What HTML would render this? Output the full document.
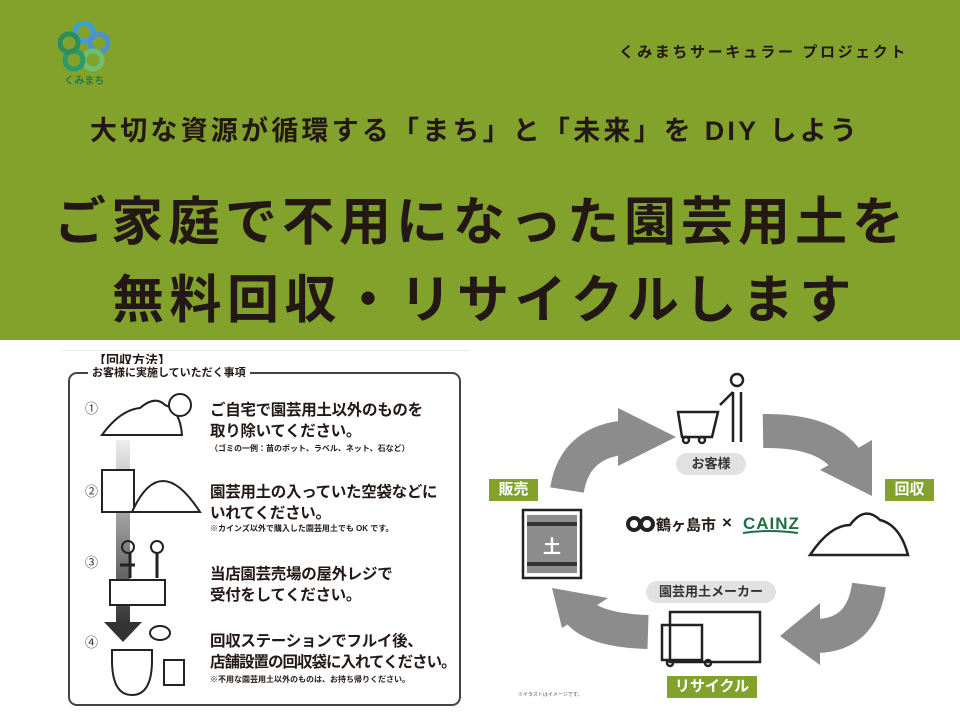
<!DOCTYPE html>
<html><head><meta charset="utf-8"><style>
*{margin:0;padding:0;box-sizing:border-box}
body{width:960px;height:720px;position:relative;background:#fff;font-family:"Liberation Sans","Noto Sans CJK JP",sans-serif;overflow:hidden;color:#231815}
.a{position:absolute;white-space:nowrap}
.ban{position:absolute;left:0;top:0;width:960px;height:340px;background:#83a22b}
.b{font-weight:bold}
.tag{position:absolute;background:#83a22b;color:#fff;font-weight:bold;font-size:15px;text-align:center;line-height:22px}
.pill{position:absolute;background:#e1e1e1;border-radius:12px;font-weight:bold;font-size:13px;text-align:center;color:#333}
.num{position:absolute;font-size:13px;color:#333}
.st{font-size:15.5px;line-height:21px;letter-spacing:-0.3px}
</style></head><body>
<div class="ban"></div>
<svg class="a" style="left:58px;top:22px" width="52" height="50" viewBox="0 0 52 50">
<circle cx="26" cy="10" r="9" fill="none" stroke="#3aa0d8" stroke-width="5"/>
<circle cx="41" cy="21" r="9" fill="none" stroke="#4d8fcf" stroke-width="5"/>
<circle cx="35" cy="38" r="9" fill="none" stroke="#6cc070" stroke-width="5"/>
<circle cx="16" cy="38" r="9" fill="none" stroke="#2e9a6a" stroke-width="5"/>
<circle cx="11" cy="21" r="9" fill="none" stroke="#2a8f5a" stroke-width="5"/>
</svg>
<div class="a b" style="left:64px;top:72px;font-size:10px;color:#2a7a50">くみまち</div>
<div class="a b" style="left:619px;top:41px;font-size:15px;letter-spacing:2.6px">くみまちサーキュラー プロジェクト</div>
<div class="a b" style="left:90px;top:109px;font-size:27px;letter-spacing:3.2px">大切な資源が循環する「まち」と「未来」を DIY しよう</div>
<div class="a b" style="left:54px;top:180px;font-size:52px;letter-spacing:5px">ご家庭で不用になった園芸用土を</div>
<div class="a b" style="left:112px;top:258px;font-size:52px;letter-spacing:5.5px">無料回収・リサイクルします</div>

<!-- left panel -->
<div class="a" style="left:62px;top:350px;width:408px;height:1px;background:#e8e8e8"></div>
<div class="a b" style="left:93px;top:350px;font-size:13px">【回収方法】</div>
<div class="a" style="left:68px;top:372px;width:393px;height:334px;border:2.5px solid #444;border-radius:9px"></div>
<div class="a b" style="left:88px;top:364px;font-size:11px;background:#fff;padding:0 4px">お客様に実施していただく事項</div>
<div class="num" style="left:85px;top:398px">①</div>
<div class="num" style="left:85px;top:481px">②</div>
<div class="num" style="left:85px;top:552px">③</div>
<div class="num" style="left:85px;top:632px">④</div>
<svg class="a" style="left:100px;top:390px" width="140" height="310">
<defs><linearGradient id="g" x1="0" y1="0" x2="0" y2="1"><stop offset="0" stop-color="#eee"/><stop offset="1" stop-color="#333"/></linearGradient></defs>
<rect x="16" y="50" width="14" height="185" fill="url(#g)"/>
<polygon points="4,232 42,232 23,252" fill="#333"/>
<path d="M2,45 Q20,20 40,18 Q55,5 65,15 Q80,20 82,45 Z" fill="#fff" stroke="#222" stroke-width="2"/>
<circle cx="80" cy="15" r="11" fill="#fff" stroke="#222" stroke-width="2"/>
<rect x="2" y="80" width="32" height="42" fill="#fff" stroke="#222" stroke-width="2"/>
<path d="M32,122 Q60,60 100,122 Z" fill="#fff" stroke="#222" stroke-width="2"/>
<rect x="10" y="190" width="55" height="25" fill="#fff" stroke="#222" stroke-width="2"/>
<circle cx="28" cy="157" r="6" fill="none" stroke="#222" stroke-width="2"/>
<circle cx="57" cy="157" r="6" fill="none" stroke="#222" stroke-width="2"/>
<path d="M30,163 v25 M57,163 v25 M20,175 h15" stroke="#222" stroke-width="3"/>
<path d="M12,260 h40 v10 q0,35 -20,35 q-20,0 -20,-35 z" fill="#fff" stroke="#222" stroke-width="2"/>
<rect x="64" y="270" width="20" height="25" fill="#fff" stroke="#222" stroke-width="2"/>
<ellipse cx="60" cy="243" rx="10" ry="7" fill="#fff" stroke="#222" stroke-width="2"/>
</svg>
<div class="a b st" style="left:210px;top:400px">ご自宅で園芸用土以外のものを<br>取り除いてください。</div>
<div class="a b" style="left:210px;top:443px;font-size:8px">（ゴミの一例：苗のポット、ラベル、ネット、石など）</div>
<div class="a b st" style="left:210px;top:482px">園芸用土の入っていた空袋などに<br>いれてください。</div>
<div class="a b" style="left:210px;top:523px;font-size:8px">※カインズ以外で購入した園芸用土でも OK です。</div>
<div class="a b st" style="left:210px;top:564px">当店園芸売場の屋外レジで<br>受付をしてください。</div>
<div class="a b st" style="left:210px;top:631px">回収ステーションでフルイ後、<br><span style="letter-spacing:-1px">店舗設置の回収袋に入れてください。</span></div>
<div class="a b" style="left:210px;top:674px;font-size:8px">※不用な園芸用土以外のものは、お持ち帰りください。</div>

<!-- right cycle -->
<svg class="a" style="left:0;top:0" width="960" height="720">
<g fill="none" stroke="#8c8c8c" stroke-width="34">
<path d="M567,490 Q575,440 630,437"/>
<path d="M763,431 Q835,430 852,470"/>
<path d="M869,585 Q862,636 815,636"/>
<path d="M648,632 Q585,630 575,605"/>
</g>
<g fill="#8c8c8c">
<polygon points="618,408 676,437 618,466"/>
<polygon points="820,470 872,440 872,496"/>
<polygon points="820,603 780,636 820,665"/>
<polygon points="552,588 608,598 562,628"/>
</g>
<g fill="none" stroke="#222" stroke-width="2.5">
<circle cx="737" cy="380" r="6"/>
<path d="M733,392 v50 M741,392 v50 M720,405 q10,-10 13,-13"/>
<path d="M678,412 h40 l-6,25 h-30 z"/>
<circle cx="686" cy="440" r="3"/><circle cx="702" cy="440" r="3"/>
<path d="M810,555 q20,-30 40,-30 q15,-20 30,-5 q20,5 28,35 z" fill="#fff"/>
<rect x="523" y="510" width="58" height="68"/>
<rect x="670" y="612" width="90" height="50"/>
<rect x="662" y="625" width="40" height="35"/>
<circle cx="670" cy="663" r="3"/><circle cx="708" cy="663" r="3"/>
</g>
<rect x="527" y="515" width="50" height="58" fill="#8c8c8c"/>
<rect x="527" y="522" width="50" height="4" fill="#333"/>
<rect x="527" y="562" width="50" height="4" fill="#333"/>
<text x="552" y="553" font-size="18" font-weight="bold" fill="#fff" text-anchor="middle" font-family="Liberation Sans,Noto Sans CJK JP,sans-serif">土</text>
<circle cx="634" cy="524" r="6" fill="none" stroke="#222" stroke-width="4"/>
<circle cx="647" cy="524" r="6" fill="none" stroke="#222" stroke-width="4"/>
<path d="M743,533 q25,-4 55,0" stroke="#1f6e45" stroke-width="2" fill="none"/>
</svg>
<div class="pill" style="left:676px;top:453px;width:70px;height:22px;line-height:22px">お客様</div>
<div class="pill" style="left:646px;top:581px;width:130px;height:22px;line-height:22px">園芸用土メーカー</div>
<div class="tag" style="left:489px;top:479px;width:49px">販売</div>
<div class="tag" style="left:885px;top:479px;width:49px">回収</div>
<div class="tag" style="left:667px;top:676px;width:90px">リサイクル</div>
<div class="a b" style="left:656px;top:514px;font-size:15px">鶴ヶ島市</div>
<div class="a b" style="left:722px;top:513px;font-size:17px">×</div>
<div class="a b" style="left:743px;top:514px;font-size:17px;color:#1f6e45;letter-spacing:1px">CAINZ</div>
<div class="a" style="left:518px;top:691px;font-size:5px;color:#555">※イラストはイメージです。</div>
</body></html>
